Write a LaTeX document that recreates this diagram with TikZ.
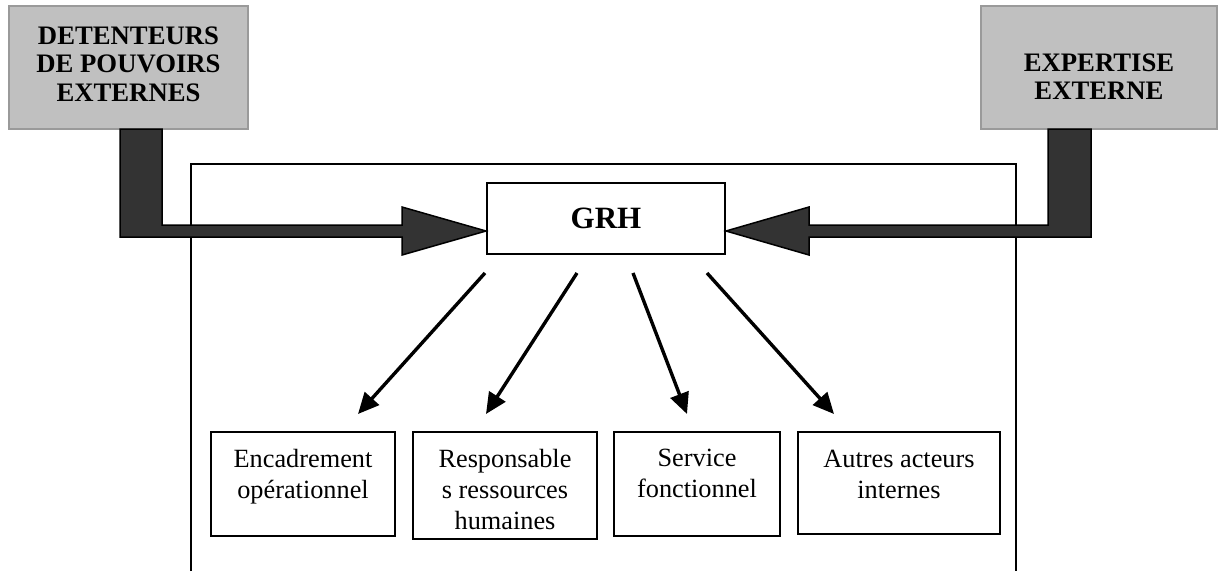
\documentclass[tikz,border=0pt]{standalone}
\usepackage{fontspec}
\setmainfont{Liberation Serif}
\usetikzlibrary{arrows.meta}
\definecolor{extfill}{HTML}{C0C0C0}
\definecolor{extdraw}{HTML}{9A9A9A}
\definecolor{bigfill}{HTML}{333333}
\begin{document}
\begin{tikzpicture}[x=1pt,y=-1pt,
  extbox/.style={draw=extdraw,fill=extfill,line width=2pt,inner sep=0pt},
  exttext/.style={inner sep=0pt,align=center,
    font=\fontsize{26.7}{28.5}\selectfont\bfseries},
  grhbox/.style={draw=black,line width=1.5pt,inner sep=0pt,
    font=\fontsize{31}{37}\selectfont\bfseries},
  actbox/.style={draw=black,line width=1.5pt,inner sep=0pt},
  acttext/.style={inner sep=0pt,align=center,anchor=north,
    font=\fontsize{26.3}{31}\selectfont},
  bigarrow/.style={draw=black,fill=bigfill,line width=1.5pt,line join=miter},
  thinarrow/.style={draw=black,line width=3.4pt,-{Triangle[length=21pt,width=19pt]}},
  frameline/.style={draw=black,line width=1.3pt}]
\useasboundingbox (0,0) rectangle (1219,571);

% outer frame (open at the bottom)
\draw[frameline] (191,571) -- (191,164) -- (1016,164) -- (1016,571);

% external boxes
\node[extbox,minimum width=239pt,minimum height=123pt] (dpe) at (128.5,67.5) {};
\node[exttext] (dpet) at (128.5,64) {DETENTEURS\\DE POUVOIRS\\EXTERNES};
\node[extbox,minimum width=236pt,minimum height=123pt] (expe) at (1099,67.5) {};
\node[exttext] (expet) at (1099,76.5) {EXPERTISE\\EXTERNE};

% GRH
\node[grhbox,minimum width=238pt,minimum height=71pt] (grh) at (606,218.5) {GRH};

% big bent arrows
\draw[bigarrow] (120,129) -- (120,237) -- (402,237) -- (402,255) -- (486,231)
  -- (402,207) -- (402,225) -- (162,225) -- (162,129) -- cycle;
\draw[bigarrow] (1091,129) -- (1091,237) -- (809,237) -- (809,255) -- (726,231)
  -- (809,207) -- (809,225) -- (1048,225) -- (1048,129) -- cycle;

% internal actor boxes
\node[actbox,minimum width=184pt,minimum height=104pt] (b1) at (303,484) {};
\node[actbox,minimum width=184pt,minimum height=107pt] (b2) at (505,485.5) {};
\node[actbox,minimum width=166pt,minimum height=104pt] (b3) at (697,484) {};
\node[actbox,minimum width=202pt,minimum height=102pt] (b4) at (899,483) {};

\node[acttext] (t1) at ([yshift=-18pt]b1.north) {Encadrement\\opérationnel};
\node[acttext] (t2) at ([yshift=-18pt]b2.north) {Responsable\\s ressources\\humaines};
\node[acttext] (t3) at ([yshift=-18pt]b3.north) {Service\\fonctionnel};
\node[acttext] (t4) at ([yshift=-19pt]b4.north) {Autres acteurs\\internes};

% thin arrows from GRH to actors
\coordinate (s1) at (485,273); \coordinate (e1) at (358,414);
\coordinate (s2) at (577,273); \coordinate (e2) at (486,414);
\coordinate (s3) at (633,273); \coordinate (e3) at (687,414);
\coordinate (s4) at (707,273); \coordinate (e4) at (834,414);
\draw[thinarrow] (s1) -- (e1);
\draw[thinarrow] (s2) -- (e2);
\draw[thinarrow] (s3) -- (e3);
\draw[thinarrow] (s4) -- (e4);
\end{tikzpicture}
\end{document}
